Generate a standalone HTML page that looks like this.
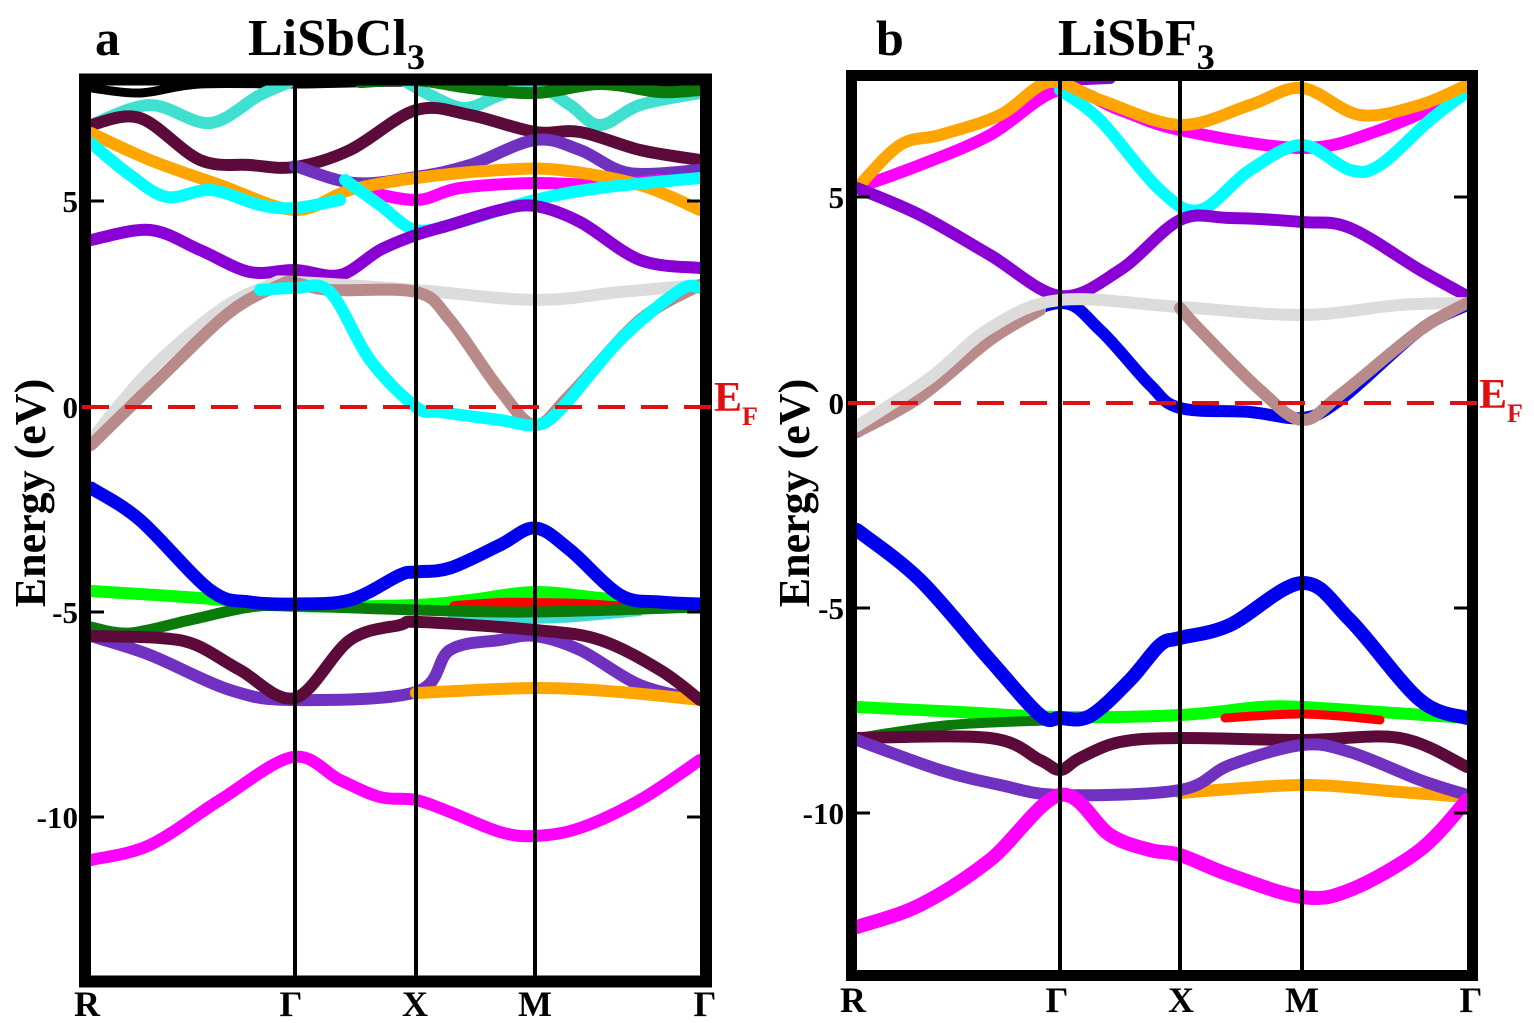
<!DOCTYPE html>
<html><head><meta charset="utf-8"><style>
html,body{margin:0;padding:0;background:#fff;}
svg{display:block;}
text{font-family:"Liberation Serif",serif;font-weight:bold;}
</style></head><body>
<svg id="s" width="1534" height="1023" viewBox="0 0 1534 1023" xmlns="http://www.w3.org/2000/svg">
<defs>
<clipPath id="ca"><rect x="91" y="85" width="609" height="891"/></clipPath>
<clipPath id="cb"><rect x="857" y="81" width="610" height="889"/></clipPath>
</defs>
<g id="ga" clip-path="url(#ca)"></g>
<g id="gb" clip-path="url(#cb)"></g>
<g stroke="#000" fill="none">
<line x1="295" y1="85" x2="295" y2="976" stroke-width="4"/>
<line x1="416" y1="85" x2="416" y2="976" stroke-width="4"/>
<line x1="535" y1="85" x2="535" y2="976" stroke-width="4"/>
<rect x="85" y="79.5" width="621" height="902" stroke-width="12"/>
<g stroke-width="3">
<line x1="91" y1="201" x2="104" y2="201"/><line x1="687" y1="201" x2="700" y2="201"/>
<line x1="91" y1="612" x2="104" y2="612"/><line x1="687" y1="612" x2="700" y2="612"/>
<line x1="91" y1="817" x2="104" y2="817"/><line x1="687" y1="817" x2="700" y2="817"/>
</g>
<line x1="1060" y1="81" x2="1060" y2="970" stroke-width="4"/>
<line x1="1180" y1="81" x2="1180" y2="970" stroke-width="4"/>
<line x1="1302" y1="81" x2="1302" y2="970" stroke-width="4"/>
<rect x="851.5" y="75.5" width="621" height="900" stroke-width="11"/>
<g stroke-width="3">
<line x1="857" y1="197" x2="870" y2="197"/><line x1="1454" y1="197" x2="1467" y2="197"/>
<line x1="857" y1="608" x2="870" y2="608"/><line x1="1454" y1="608" x2="1467" y2="608"/>
<line x1="857" y1="813" x2="870" y2="813"/><line x1="1454" y1="813" x2="1467" y2="813"/>
</g>
</g>
<line x1="82" y1="407" x2="712" y2="407" stroke="#dd1111" stroke-width="4" stroke-dasharray="27 16"/>
<line x1="848" y1="403" x2="1478" y2="403" stroke="#dd1111" stroke-width="4" stroke-dasharray="27 16"/>
<text x="95" y="55" font-size="50">a</text>
<text x="248" y="55" font-size="52">LiSbCl<tspan font-size="36" dy="14">3</tspan></text>
<text x="876" y="55" font-size="50">b</text>
<text x="1058" y="55" font-size="52">LiSbF<tspan font-size="36" dy="14">3</tspan></text>
<g font-size="31" text-anchor="end">
<text x="78" y="212">5</text><text x="78" y="418">0</text><text x="78" y="623">-5</text><text x="78" y="828">-10</text>
<text x="844" y="208">5</text><text x="844" y="414">0</text><text x="844" y="619">-5</text><text x="844" y="824">-10</text>
</g>
<text transform="translate(45,493) rotate(-90)" font-size="44" text-anchor="middle">Energy (eV)</text>
<text transform="translate(809,493) rotate(-90)" font-size="44" text-anchor="middle">Energy (eV)</text>
<text x="714" y="411" font-size="42" fill="#dd1111">E<tspan font-size="26" dy="14">F</tspan></text>
<text x="1479" y="408" font-size="42" fill="#dd1111">E<tspan font-size="26" dy="14">F</tspan></text>
<g font-size="36" text-anchor="middle">
<text x="87" y="1016">R</text><text x="291" y="1016">Γ</text><text x="415" y="1016">X</text><text x="535" y="1016">M</text><text x="705" y="1016">Γ</text>
<text x="853" y="1012">R</text><text x="1057" y="1012">Γ</text><text x="1181" y="1012">X</text><text x="1302" y="1012">M</text><text x="1471" y="1012">Γ</text>
</g>
</svg>
<script>
function path(p){var d="M"+p[0][0]+","+p[0][1];for(var i=0;i<p.length-1;i++){var p0=p[i-1]||p[i],p1=p[i],p2=p[i+1],p3=p[i+2]||p2;
var c1x=p1[0]+(p2[0]-p0[0])/6,c1y=p1[1]+(p2[1]-p0[1])/6,c2x=p2[0]-(p3[0]-p1[0])/6,c2y=p2[1]-(p3[1]-p1[1])/6;
d+=" C"+c1x.toFixed(1)+","+c1y.toFixed(1)+" "+c2x.toFixed(1)+","+c2y.toFixed(1)+" "+p2[0]+","+p2[1];}return d;}
function draw(g,bands){var G=document.getElementById(g);bands.forEach(function(b){var e=document.createElementNS("http://www.w3.org/2000/svg","path");
e.setAttribute("d",path(b[1]));e.setAttribute("stroke",b[0]);e.setAttribute("stroke-width",b[2]||12);e.setAttribute("fill","none");e.setAttribute("stroke-linecap","round");e.setAttribute("stroke-linejoin","round");G.appendChild(e);});}
var A=[
["#000",[[91,88],[140,93],[200,84],[300,84],[420,82],[700,82]],9],
["#40e0d0",[[91,125],[150,105],[210,123],[260,95],[300,78]]],
["#40e0d0",[[400,78],[430,95],[465,108],[500,95],[535,85],[570,105],[600,125],[640,105],[700,93]]],
["#0a7a0a",[[360,82],[416,80],[470,88],[535,93],[600,84],[660,92],[700,90]]],
["#5c0a3a",[[91,125],[140,118],[200,160],[250,165],[295,167],[350,150],[416,110],[470,115],[535,132],[580,132],[640,150],[700,160]]],
["#7030c0",[[295,166],[354,183],[416,177],[470,165],[535,140],[580,150],[629,173],[700,170]]],
["#ff00ff",[[360,190],[416,200],[460,188],[535,183],[600,185],[660,180]]],
["#ffa500",[[91,133],[150,160],[220,185],[295,210],[350,190],[416,178],[500,170],[560,170],[640,185],[700,210]]],
["#00ffff",[[91,143],[130,175],[167,197],[211,190],[260,205],[295,208],[340,200]]],
["#00ffff",[[345,180],[380,205],[416,230],[460,222],[535,200],[600,188],[700,178]]],
["#8a00d4",[[91,240],[150,230],[200,250],[250,272],[295,270],[340,275],[380,250],[416,235],[450,225],[500,210],[535,206],[580,222],[640,260],[700,268]]],
["#dcdcdc",[[91,440],[150,370],[220,310],[270,285],[295,282],[416,290],[535,300],[620,292],[700,285]]],
["#b88a8a",[[91,445],[160,378],[230,312],[280,285],[295,283],[330,290],[416,292],[450,320],[500,390],[535,425],[570,395],[640,320],[700,285]]],
["#00ffff",[[260,290],[295,288],[330,292],[370,360],[416,407],[440,412],[500,420],[535,425],[560,410],[620,340],[680,290],[700,288]]],
["#40d8d0",[[450,615],[500,620],[560,620],[640,613]],6],
["#00ff00",[[91,591],[200,598],[295,606],[416,605],[470,600],[535,592],[600,598],[700,607]]],
["#ff0000",[[455,607],[500,604],[535,604],[580,605],[625,608]],12],
["#0a7a0a",[[91,627],[130,633],[190,620],[250,607],[295,606],[416,610],[535,612],[700,607]],11],
["#0000ee",[[91,488],[140,520],[210,590],[250,602],[295,604],[350,600],[400,575],[416,572],[450,568],[500,545],[535,528],[570,550],[620,595],[660,602],[700,604]],13],
["#7030c0",[[91,636],[150,655],[230,690],[293,700],[416,692],[450,650],[500,640],[535,636],[580,650],[640,685],[700,700]]],
["#ffa500",[[416,693],[535,688],[620,692],[700,700]]],
["#5c0a3a",[[91,636],[160,638],[196,645],[240,670],[295,698],[350,640],[400,625],[420,622],[535,630],[600,640],[660,670],[700,700]]],
["#ff00ff",[[91,860],[150,845],[220,800],[293,757],[340,780],[380,797],[416,800],[450,812],[500,832],[535,836],[580,828],[640,800],[700,760]]]
];
var B=[
["#8a00d4",[[1060,80],[1110,78]]],
["#ff00ff",[[857,188],[920,165],[990,135],[1060,90],[1120,110],[1180,130],[1302,148],[1380,130],[1467,92]]],
["#00ffff",[[1060,90],[1100,120],[1160,190],[1200,210],[1250,170],[1302,145],[1350,170],[1380,165],[1430,120],[1467,92]]],
["#ffa500",[[857,188],[900,145],[940,135],[1000,115],[1050,82],[1100,100],[1180,125],[1250,105],[1302,88],[1360,115],[1420,105],[1467,85]]],
["#8a00d4",[[857,188],[920,215],[990,255],[1060,296],[1120,270],[1180,220],[1230,218],[1302,222],[1350,228],[1420,270],[1467,296]]],
["#0000ee",[[857,432],[930,384],[990,334],[1060,303],[1100,330],[1150,385],[1180,408],[1250,412],[1302,418],[1340,400],[1420,330],[1467,305]]],
["#b88a8a",[[857,432],[920,397],[990,340],[1040,310]]],
["#dcdcdc",[[857,426],[930,378],[990,328],[1060,300],[1180,307],[1302,315],[1400,305],[1467,303]]],
["#b88a8a",[[1180,308],[1200,330],[1260,390],[1302,420],[1340,395],[1420,330],[1467,303]]],
["#00ff00",[[857,707],[960,712],[1060,717],[1180,715],[1260,707],[1302,707],[1380,712],[1467,718]]],
["#ff0000",[[1225,718],[1270,715],[1302,714],[1340,716],[1380,720]],9],
["#0a7a0a",[[857,738],[950,725],[1060,720]],10],
["#0000ee",[[857,530],[920,580],[990,660],[1040,715],[1060,718],[1090,716],[1130,680],[1160,645],[1180,638],[1230,625],[1302,583],[1350,620],[1420,700],[1467,718]],14],
["#5c0a3a",[[857,738],[990,738],[1040,760],[1060,770],[1080,758],[1120,742],[1180,738],[1302,740],[1400,738],[1467,767]]],
["#ffa500",[[1180,793],[1302,785],[1400,792],[1467,797]]],
["#7030c0",[[857,740],[940,770],[1000,785],[1060,795],[1180,790],[1230,765],[1302,745],[1350,752],[1420,780],[1467,795]]],
["#ff00ff",[[857,927],[920,905],[990,860],[1060,795],[1110,835],[1150,850],[1180,855],[1230,875],[1302,897],[1350,890],[1420,850],[1467,800]],14]
];
draw("ga",A);draw("gb",B);
</script>
</body></html>
